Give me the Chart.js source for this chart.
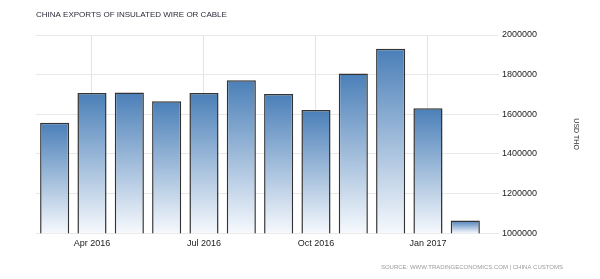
<!DOCTYPE html>
<html>
<head>
<meta charset="utf-8">
<script src="https://cdn.jsdelivr.net/npm/chart.js@4/dist/chart.umd.min.js"></script>
<style>
  html, body { margin: 0; padding: 0; background: #fff; }
  #wrap { width: 600px; height: 279px; position: relative; }
</style>
</head>
<body>
<div id="wrap"><canvas id="exportsChart"></canvas></div>
<script>
const months = ['Mar 2016', 'Apr 2016', 'May 2016', 'Jun 2016', 'Jul 2016', 'Aug 2016',
  'Sep 2016', 'Oct 2016', 'Nov 2016', 'Dec 2016', 'Jan 2017', 'Feb 2017'];
const tickLabels = ['', 'Apr 2016', '', '', 'Jul 2016', '', '', 'Oct 2016', '', '', 'Jan 2017', ''];
const exportsValues = [1557000, 1707000, 1710000, 1666000, 1707000, 1772000,
  1702000, 1622000, 1806000, 1930000, 1631000, 1064000];
const yTicks = [1000000, 1200000, 1400000, 1600000, 1800000, 2000000];

const FONT = '"Liberation Sans", Arial, sans-serif';

// per bar gradient, dark blue on top fading to white at the base
function barGradient(ctx) {
  const chart = ctx.chart;
  const y = chart.scales.y;
  if (!chart.chartArea || !y || ctx.raw == null) return '#4a7fb8';
  const top = y.getPixelForValue(ctx.raw);
  const bottom = y.getPixelForValue(y.min);
  const g = chart.ctx.createLinearGradient(0, top, 0, bottom);
  g.addColorStop(0, '#4a7fb8');
  g.addColorStop(1, '#f6f9fd');
  return g;
}

const sourceText = {
  id: 'sourceText',
  afterDraw(chart) {
    const { ctx } = chart;
    ctx.save();
    ctx.font = '6px ' + FONT;
    ctx.fillStyle = '#9a9a9a';
    ctx.textAlign = 'right';
    ctx.textBaseline = 'middle';
    ctx.fillText('SOURCE: WWW.TRADINGECONOMICS.COM | CHINA CUSTOMS', 563, 267);
    ctx.restore();
  }
};

new Chart(document.getElementById('exportsChart'), {
  type: 'bar',
  data: {
    labels: months,
    datasets: [{
      data: exportsValues,
      backgroundColor: barGradient,
      borderColor: '#333',
      borderWidth: 1.5,
      categoryPercentage: 1,
      barPercentage: 0.78
    }]
  },
  options: {
    responsive: true,
    maintainAspectRatio: false,
    animation: false,
    layout: { padding: { left: 36, right: 9, top: 0, bottom: 25 } },
    plugins: {
      legend: { display: false },
      tooltip: { enabled: false },
      title: {
        display: true,
        text: 'CHINA EXPORTS OF INSULATED WIRE OR CABLE',
        align: 'start',
        color: '#2b2b3b',
        font: { family: FONT, size: 8, weight: 'normal' },
        padding: { top: 10.2, bottom: 15.2 }
      }
    },
    scales: {
      x: {
        border: { display: false },
        grid: {
          offset: false,
          drawTicks: false,
          color: (c) => (tickLabels[c.index] ? '#e4e4e4' : 'rgba(0,0,0,0)'),
          lineWidth: 1
        },
        ticks: {
          autoSkip: false,
          maxRotation: 0,
          padding: 5,
          color: '#222',
          font: { family: FONT, size: 9 },
          callback: (v, i) => tickLabels[i]
        }
      },
      y: {
        position: 'right',
        min: 1000000,
        max: 2000000,
        border: { display: false },
        afterBuildTicks: (axis) => { axis.ticks = yTicks.map(v => ({ value: v })); },
        grid: { color: '#e8e8e8', lineWidth: 1, drawTicks: true, tickLength: 15 },
        ticks: {
          padding: 3,
          color: '#222',
          font: { family: FONT, size: 9 },
          callback: (v) => String(v)
        },
        title: {
          display: true,
          text: 'USD THO',
          color: '#333',
          font: { family: FONT, size: 7 },
          padding: { top: 11, bottom: 31.6 }
        }
      }
    }
  },
  plugins: [sourceText]
});
</script>
</body>
</html>
